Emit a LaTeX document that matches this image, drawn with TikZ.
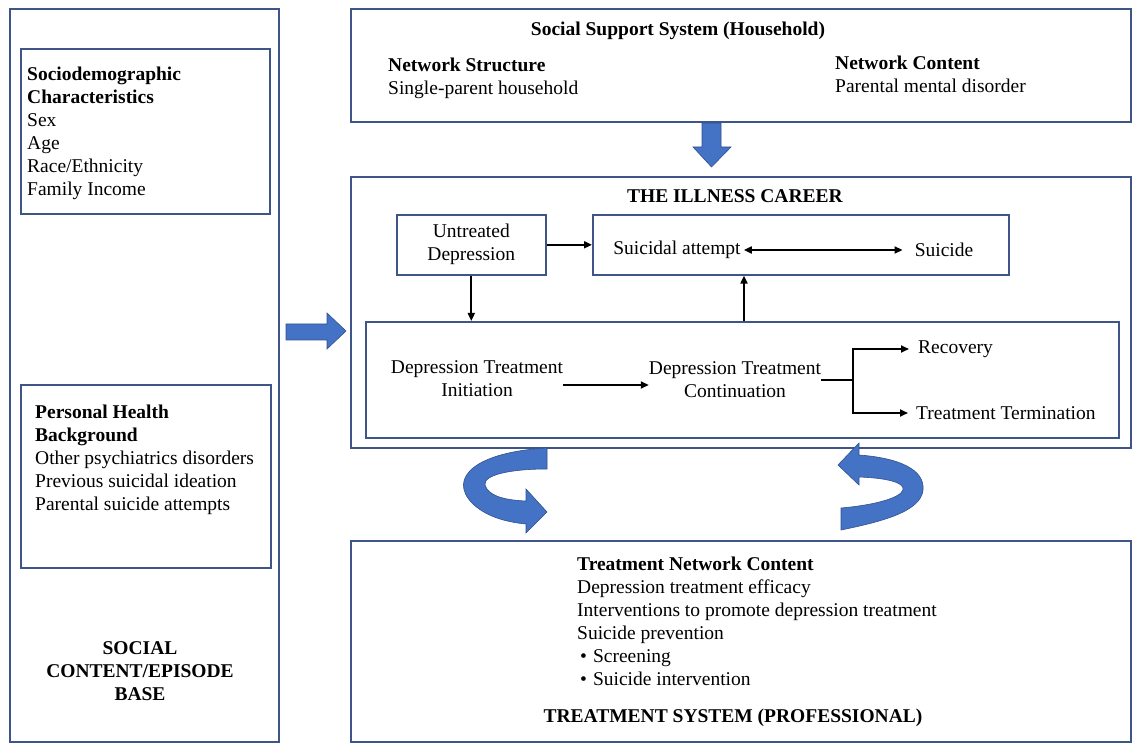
\documentclass[tikz,border=0pt]{standalone}
\usepackage{fontspec}
\setmainfont{Liberation Serif}
\usetikzlibrary{positioning, arrows.meta}

\definecolor{boxline}{RGB}{63,84,135}
\definecolor{arrowblue}{RGB}{68,114,196}
\definecolor{arrowedge}{RGB}{47,82,143}

\tikzset{
  box/.style={draw=boxline, line width=1.6pt, anchor=north west, inner sep=0pt},
  txt/.style={font=\fontsize{19.5}{23}\selectfont, align=left, inner sep=0pt},
  arr/.style={->, line width=1.8pt, >={Triangle[length=8pt,width=7pt]}},
  blockarrow/.style={fill=arrowblue, draw=arrowedge, line width=0.6pt},
}

\begin{document}
\begin{tikzpicture}[x=1pt, y=-1pt]
    \useasboundingbox (0,0) rectangle (1138,743);

    % left column
    \node[box, minimum width=269pt, minimum height=733pt] (base) at (9,8) {};
    \node[box, minimum width=249pt, minimum height=165pt] (socio) at (20,48) {};
    \node[txt, anchor=north west] (sociotxt) at (27,67) {\textbf{Sociodemographic}\\ \textbf{Characteristics}\\ Sex\\ Age\\ Race/Ethnicity\\ Family Income};
    \node[box, minimum width=250pt, minimum height=183pt] (health) at (20,384) {};
    \node[txt, anchor=north west] (healthtxt) at (35,405) {\textbf{Personal Health}\\ \textbf{Background}\\ Other psychiatrics disorders\\ Previous suicidal ideation\\ Parental suicide attempts};
    \node[txt, align=center] (basetxt) at (140,671) {\textbf{SOCIAL}\\ \textbf{CONTENT/EPISODE}\\ \textbf{BASE}};

    % household
    \node[box, minimum width=780pt, minimum height=113pt] (household) at (350,8) {};
    \node[txt] (householdtitle) at (678,31) {\textbf{Social Support System (Household)}};
    \node[txt, anchor=north west] (structure) at (388,58) {\textbf{Network Structure}\\ Single-parent household};
    \node[txt, anchor=north west] (content) at (835,56) {\textbf{Network Content}\\ Parental mental disorder};

    % illness career
    \node[box, minimum width=780pt, minimum height=271pt] (career) at (350,176) {};
    \node[txt] (careertitle) at (735,196) {\textbf{THE ILLNESS CAREER}};
    \node[box, txt, align=center, minimum width=149pt, minimum height=60pt] (untreated) at (396,214) {Untreated\\ Depression};
    \node[box, minimum width=416pt, minimum height=60pt] (suicidal) at (592,214) {};
    \node[txt] (attempt) at (677,250) {Suicidal attempt};
    \node[txt] (suicide) at (944,250) {Suicide};
    \node[box, minimum width=753pt, minimum height=116pt] (treatment) at (365,321) {};
    \node[txt, align=center] (initiation) at (477,379) {Depression Treatment\\ Initiation};
    \node[txt, align=center] (continuation) at (735,380) {Depression Treatment\\ Continuation};
    \node[txt, anchor=west] (recovery) at (918,349) {Recovery};
    \node[txt, anchor=west] (termination) at (916,413) {Treatment Termination};
    \coordinate (fork) at (853,380);
    \coordinate (rise) at (744,321);

    \draw[arr] (untreated.east) -- (suicidal.west);
    \draw[arr] (untreated.south) -- (treatment.north -| untreated.south);
    \draw[arr] (rise) -- (rise |- suicidal.south);
    \draw[arr, <->, shorten <=3pt, shorten >=12pt] (attempt.east) -- (suicide.west);
    \draw[arr] ([yshift=-6pt]initiation.east) -- ([yshift=-6pt]continuation.west |- initiation.east);
    \draw[line width=1.8pt] (continuation.east) -- (fork);
    \draw[arr, shorten >=9pt] (fork) |- (recovery.west);
    \draw[arr, shorten >=8pt] (fork) |- (termination.west);

    % treatment system
    \node[box, minimum width=780pt, minimum height=201pt] (professional) at (350,540) {};
    \node[txt, anchor=north west] (network) at (577,557) {\textbf{Treatment Network Content}\\ Depression treatment efficacy\\ Interventions to promote depression treatment\\ Suicide prevention\\ \hspace*{3pt}\textbullet\hspace{6pt}Screening\\ \hspace*{3pt}\textbullet\hspace{6pt}Suicide intervention};
    \node[txt] (professionaltitle) at (733,718) {\textbf{TREATMENT SYSTEM (PROFESSIONAL)}};

    % block arrows
    \draw[blockarrow] (702,123) -- (721,123) -- (721,147) -- (731,147) -- (711.5,167) -- (693,147) -- (702,147) -- cycle;
    \draw[blockarrow] (286,324) -- (327,324) -- (327,313) -- (346,331) -- (327,349) -- (327,340) -- (286,340) -- cycle;

    % curved arrows
    \draw[blockarrow] (547,448) .. controls (475,452) and (448,478) .. (472,503) .. controls (485,516) and (505,522) .. (526,524) -- (526,533) -- (547,512) -- (526,489) -- (526,501) .. controls (502,500) and (488,495) .. (485,485) .. controls (483,475) and (510,469) .. (547,469) -- cycle;
    \draw[blockarrow] (838,465) -- (859,443) -- (859,455) .. controls (900,458) and (925,470) .. (923,490) .. controls (921,512) and (880,522) .. (841,530) -- (841,508) .. controls (875,505) and (900,498) .. (903,490) .. controls (905,482) and (885,478) .. (859,477) -- (859,485) -- cycle;
\end{tikzpicture}
\end{document}
